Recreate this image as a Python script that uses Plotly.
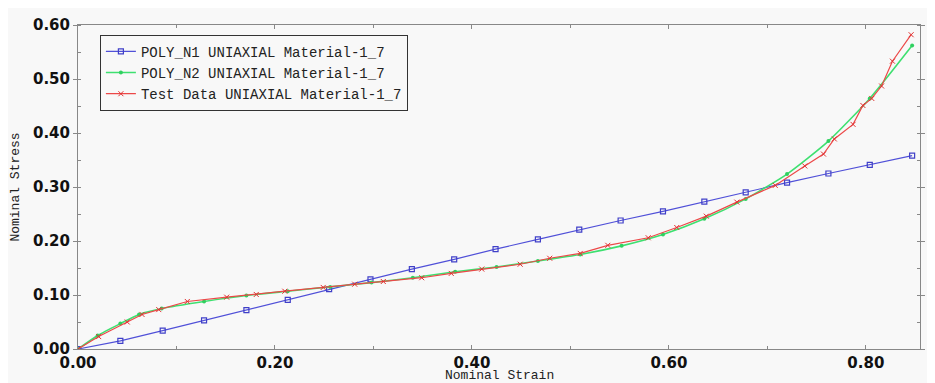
import plotly.graph_objects as go

# POLY_N1 UNIAXIAL Material-1_7
n1_strain = [0.000, 0.043, 0.086, 0.128, 0.171, 0.213, 0.255, 0.297, 0.339, 0.382, 0.424,
             0.467, 0.509, 0.551, 0.594, 0.636, 0.678, 0.720, 0.762, 0.804, 0.847]
n1_stress = [0.000, 0.015, 0.034, 0.053, 0.072, 0.091, 0.111, 0.129, 0.148, 0.166, 0.185,
             0.203, 0.221, 0.238, 0.255, 0.273, 0.290, 0.308, 0.325, 0.341, 0.358]

# POLY_N2 UNIAXIAL Material-1_7
n2_strain = [0.000, 0.020, 0.043, 0.062, 0.085, 0.128, 0.171, 0.213, 0.256, 0.298, 0.340, 0.383,
             0.425, 0.467, 0.510, 0.552, 0.594, 0.636, 0.678, 0.720, 0.762, 0.804, 0.847]
n2_stress = [0.000, 0.025, 0.047, 0.064, 0.075, 0.088, 0.099, 0.107, 0.115, 0.123, 0.132, 0.143,
             0.152, 0.163, 0.175, 0.191, 0.212, 0.241, 0.278, 0.324, 0.385, 0.464, 0.562]

# Test Data UNIAXIAL Material-1_7
td_strain = [0.000, 0.021, 0.050, 0.065, 0.082, 0.111, 0.151, 0.181, 0.210, 0.249, 0.281, 0.310,
             0.349, 0.379, 0.410, 0.449, 0.479, 0.510, 0.538, 0.579, 0.608, 0.638, 0.669, 0.708,
             0.738, 0.757, 0.768, 0.787, 0.797, 0.806, 0.816, 0.827, 0.846]
td_stress = [0.000, 0.023, 0.050, 0.064, 0.073, 0.088, 0.096, 0.101, 0.107, 0.114, 0.120, 0.125,
             0.132, 0.140, 0.148, 0.157, 0.168, 0.177, 0.192, 0.206, 0.225, 0.246, 0.272, 0.303,
             0.339, 0.361, 0.389, 0.416, 0.451, 0.464, 0.487, 0.533, 0.582]

names = ["POLY_N1 UNIAXIAL Material-1_7",
         "POLY_N2 UNIAXIAL Material-1_7",
         "Test Data UNIAXIAL Material-1_7"]

fig = go.Figure()
fig.add_trace(go.Scatter(x=n1_strain, y=n1_stress, name=names[0], mode="lines+markers",
                         line=dict(color="#5050d8", width=1.2),
                         marker=dict(symbol="square-open", size=5, color="#4040c8",
                                     line=dict(width=1.2))))
fig.add_trace(go.Scatter(x=n2_strain, y=n2_stress, name=names[1], mode="lines+markers",
                         line=dict(color="#3ee070", width=1.6, shape="spline", smoothing=0.6),
                         marker=dict(symbol="circle", size=4, color="#30d060")))
fig.add_trace(go.Scatter(x=td_strain, y=td_stress, name=names[2], mode="lines+markers",
                         line=dict(color="#ec4848", width=1.2),
                         marker=dict(symbol="x-thin-open", size=5, color="#e03030",
                                     line=dict(width=1, color="#e03030"))))

tickfont = dict(family="DejaVu Sans", size=15, color="#111111", weight="bold")
titlefont = dict(family="Liberation Mono", size=13, color="#222222")

fig.update_layout(
    width=927, height=375,
    margin=dict(l=70, r=15, t=17, b=34),
    paper_bgcolor="#f8f8f8", plot_bgcolor="#f8f8f8",
    showlegend=True,
    legend=dict(x=0.026, y=0.97, xanchor="left", yanchor="top",
                bgcolor="#f8f8f8", bordercolor="#333333", borderwidth=1,
                font=dict(family="Liberation Mono", size=14, color="#222222"),
                itemwidth=30, tracegroupgap=0),
    xaxis=dict(range=[0, 0.855], dtick=0.2, tick0=0, tickformat=".2f", automargin=False,
               showgrid=False, zeroline=False, showline=True, linecolor="#888888",
               mirror="allticks", ticks="inside", ticklen=4, tickcolor="#888888",
               minor=dict(dtick=0.1, ticks="inside", ticklen=3, tickcolor="#888888"),
               tickfont=tickfont),
    yaxis=dict(range=[0, 0.6], dtick=0.1, tick0=0, tickformat=".2f", automargin=False,
               showgrid=False, zeroline=False, showline=True, linecolor="#888888",
               mirror="allticks", ticks="outside", ticklen=4, tickcolor="#888888",
               minor=dict(dtick=0.05, ticks="inside", ticklen=3, tickcolor="#888888"),
               tickfont=tickfont,
               title=dict(text="Nominal Stress", font=titlefont, standoff=10)),
    annotations=[dict(text="Nominal Strain", xref="paper", yref="paper", x=0.5, y=0,
                      xanchor="center", yanchor="top", yshift=-17, showarrow=False,
                      font=titlefont)],
)

fig.write_html("out.html")
